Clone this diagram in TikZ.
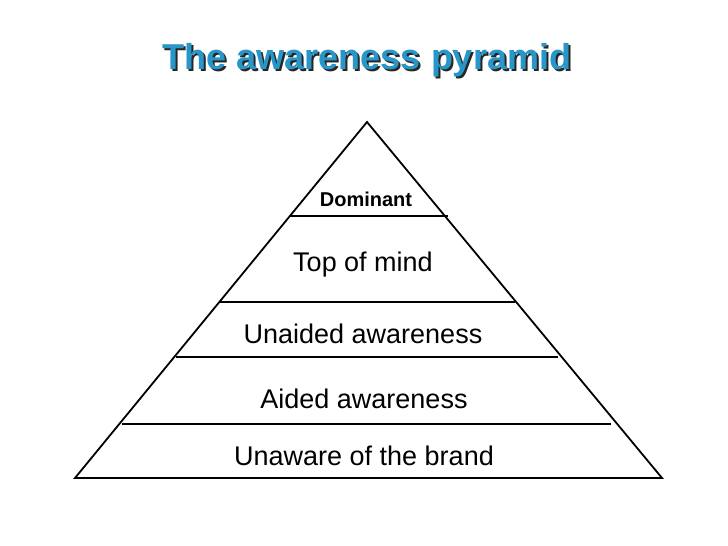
\documentclass[tikz,border=0pt]{standalone}
\usepackage{fontspec}
\setmainfont{Liberation Sans}
\usetikzlibrary{positioning}
\definecolor{titleblue}{RGB}{40,150,200}
\tikzset{level/.style={font=\fontsize{27}{30}\selectfont}}
\tikzset{divider/.style={line width=1.8pt}}
\newcommand{\titletext}{\fontsize{36}{40}\selectfont\bfseries The awareness pyramid}
\begin{document}
\begin{tikzpicture}[x=1pt,y=-1pt]
\useasboundingbox (0,0) rectangle (728,546);
% title with shadow
\node[text=black!85] at (369,62) {\titletext};
\node[text=titleblue] (title) at (367,60) {\titletext};
% pyramid outline
\coordinate (apex) at (367,122);
\coordinate (bl) at (75,478);
\coordinate (br) at (662,478);
\draw[divider] (bl) -- (apex) -- (br) -- cycle;
% level dividers
\draw[divider] (290,216) -- (448,216);
\draw[divider] (220,302) -- (515,302);
\draw[divider] (176,357) -- (558,357);
\draw[divider] (122,424) -- (611,424);
% labels
\node[font=\bfseries\fontsize{20}{22}\selectfont] (dom) at (366,199) {Dominant};
\node[level] (top) at (363,265) {Top of mind};
\node[level] (unaided) at (363,334) {Unaided awareness};
\node[level] (aided) at (364,399) {Aided awareness};
\node[level] (unaware) at (364,456) {Unaware of the brand};
\end{tikzpicture}
\end{document}
